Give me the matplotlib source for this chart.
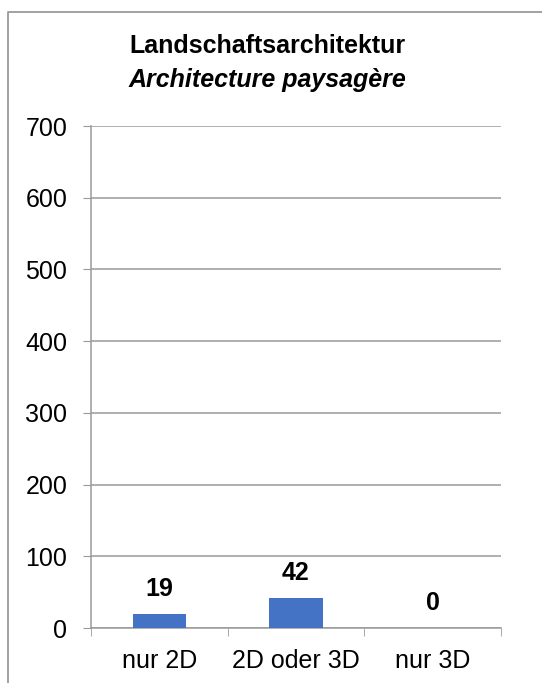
import matplotlib
matplotlib.use("Agg")
import matplotlib.pyplot as plt
from matplotlib.lines import Line2D

categories = ["nur 2D", "2D oder 3D", "nur 3D"]
values = [19, 42, 0]
yticks = [0, 100, 200, 300, 400, 500, 600, 700]
title_de = "Landschaftsarchitektur"
title_fr = "Architecture paysagère"

plt.rcParams['font.family'] = ['Liberation Sans', 'DejaVu Sans']

W, H = 542, 683
fig = plt.figure(figsize=(W / 100, H / 100), dpi=100)
fig.patch.set_facecolor('white')

grey = '#9a9a9a'
# outer chart border (partially cropped)
fig.add_artist(Line2D([8 / W, 8 / W, 1.0], [0.0, 1 - 12 / H, 1 - 12 / H],
                      transform=fig.transFigure, color=grey, lw=1.3))

ax = fig.add_axes([91 / W, 1 - 628 / H, (501 - 91) / W, (628 - 126) / H])
x = range(len(categories))
ax.bar(x, values, width=0.39, color='#4472C4', zorder=3)
ax.set_xlim(-0.5, len(categories) - 0.5)
ax.set_ylim(0, 700)
ax.set_yticks(yticks)
ax.set_yticklabels([str(t) for t in yticks], fontsize=18)
ax.set_xticks(list(x))
ax.set_xticklabels(categories, fontsize=18)
ax.set_xticks([-0.5, 0.5, 1.5, 2.5], minor=True)
ax.tick_params(axis='x', which='major', length=0, pad=15)
ax.tick_params(axis='x', which='minor', length=6, color=grey, direction='out')
ax.tick_params(axis='y', length=6, color=grey, pad=11)
ax.grid(axis='y', color=grey, lw=1.1, zorder=0)
for s in ['top', 'right']:
    ax.spines[s].set_visible(False)
for s in ['left', 'bottom']:
    ax.spines[s].set_color(grey)
    ax.spines[s].set_linewidth(1.1)

for xi, v in zip(x, values):
    ax.annotate(str(v), (xi, v), xytext=(0, 25), textcoords='offset pixels',
                ha='center', va='center', fontsize=18, fontweight='bold')

fig.text(267 / W, 1 - 46 / H, title_de, ha='center', va='center',
         fontsize=18, fontweight='bold')
fig.text(267 / W, 1 - 80 / H, title_fr, ha='center', va='center',
         fontsize=18, fontweight='bold', style='italic')

fig.savefig('out.png', dpi=100, facecolor='white')
